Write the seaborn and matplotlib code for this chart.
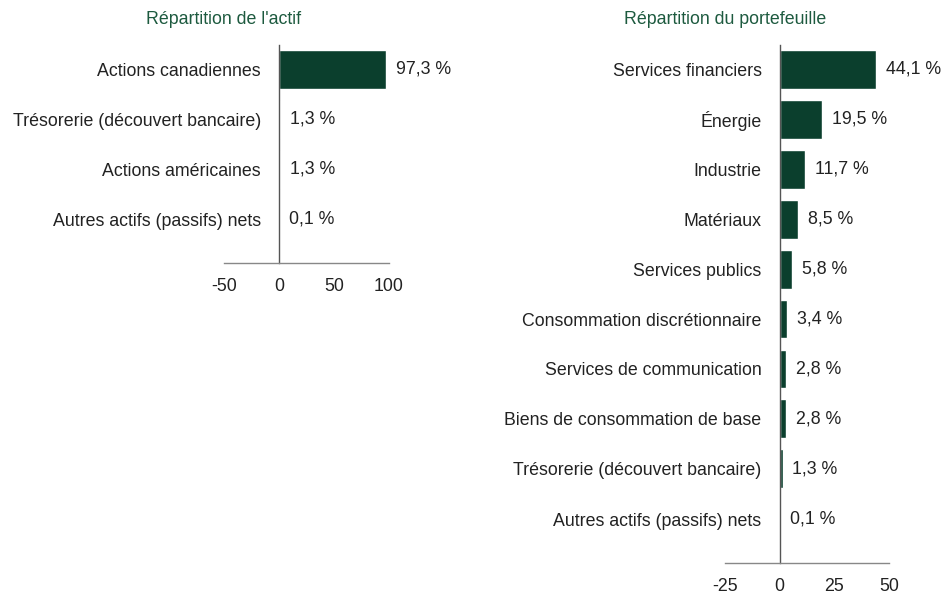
import matplotlib
matplotlib.use("Agg")
import pandas as pd
import seaborn as sns
import matplotlib.pyplot as plt

# Répartition de l'actif
asset_labels = ["Actions canadiennes", "Trésorerie (découvert bancaire)",
                "Actions américaines", "Autres actifs (passifs) nets"]
asset_values = [97.3, 1.3, 1.3, 0.1]
asset_ticks = [-50, 0, 50, 100]

# Répartition du portefeuille
sector_labels = ["Services financiers", "Énergie", "Industrie", "Matériaux",
                 "Services publics", "Consommation discrétionnaire",
                 "Services de communication", "Biens de consommation de base",
                 "Trésorerie (découvert bancaire)", "Autres actifs (passifs) nets"]
sector_values = [44.1, 19.5, 11.7, 8.5, 5.8, 3.4, 2.8, 2.8, 1.3, 0.1]
sector_ticks = [-25, 0, 25, 50]

bar_color = "#0b3f2d"
title_color = "#1d5a3f"
text_color = "#222222"
fs = 12.8

sns.set_theme(style="white")
plt.rcParams["font.family"] = ["Liberation Sans", "DejaVu Sans"]


def fr(v):
    return f"{v:.1f}".replace(".", ",") + " %"


def draw(ax, labels, values, ticks):
    df = pd.DataFrame({"label": labels, "value": values})
    sns.barplot(data=df, x="value", y="label", orient="h", color=bar_color,
                width=0.78, saturation=1, ax=ax)
    ax.set_xlim(ticks[0], ticks[-1])
    ax.set_ylim(len(labels) - 1 + 0.88, -0.48)
    ax.set_xticks(ticks)
    ax.set_xticklabels([str(t) for t in ticks])
    ax.set_xlabel("")
    ax.set_ylabel("")
    for s in ["top", "right"]:
        ax.spines[s].set_visible(False)
    ax.spines["left"].set_position(("data", 0))
    ax.spines["left"].set_color("#555555")
    ax.spines["left"].set_linewidth(1)
    ax.spines["bottom"].set_color("#888888")
    ax.spines["bottom"].set_linewidth(1)
    ax.tick_params(axis="y", length=0, pad=13, labelsize=fs, labelcolor=text_color)
    ax.tick_params(axis="x", length=0, pad=10.5, labelsize=fs, labelcolor=text_color)
    ax.bar_label(ax.containers[0], labels=[fr(v) for v in values], padding=7,
                 fontsize=fs, color=text_color)


fig = plt.figure(figsize=(9.44, 5.96), dpi=100)
ax1 = fig.add_axes([224 / 944, 1 - 263 / 596, 165 / 944, 218 / 596])
ax2 = fig.add_axes([725 / 944, 1 - 563 / 596, 164 / 944, 518 / 596])

draw(ax1, asset_labels, asset_values, asset_ticks)
draw(ax2, sector_labels, sector_values, sector_ticks)

fig.text(224 / 944, 1 - 20 / 596, "Répartition de l'actif", ha="center", va="center",
         fontsize=fs, color=title_color)
fig.text(725 / 944, 1 - 20 / 596, "Répartition du portefeuille", ha="center", va="center",
         fontsize=fs, color=title_color)

fig.savefig("out.png", dpi=100)
